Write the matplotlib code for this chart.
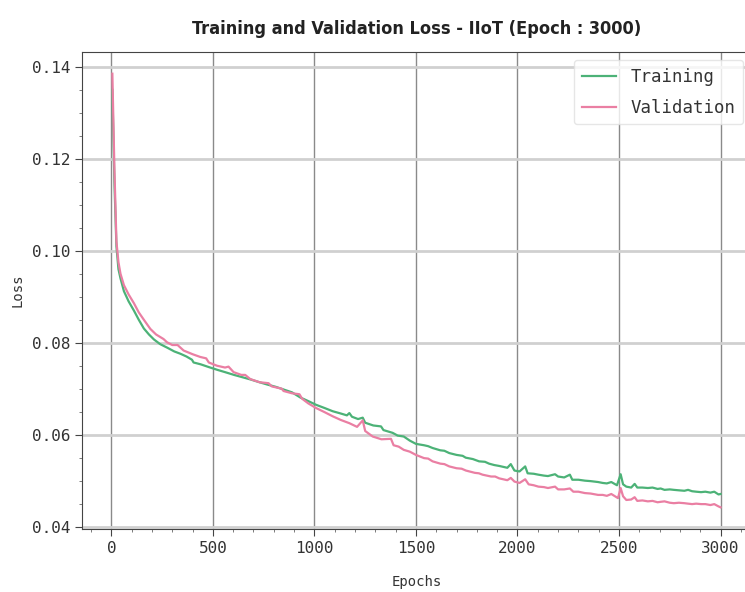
import matplotlib
matplotlib.use('Agg')
import matplotlib.pyplot as plt
from matplotlib.ticker import MultipleLocator

# loss history (epoch, loss)
train_epochs = [5, 15, 25, 35, 45, 62, 85, 111, 135, 160, 185, 210, 240, 276, 310, 340, 370, 397, 405, 440,
                480, 522, 560, 604, 645, 686, 730, 768, 810, 850, 890, 930, 970, 1008, 1050, 1090, 1130, 1160,
                1172, 1185, 1215, 1238, 1250, 1290, 1328, 1340, 1385, 1410, 1440, 1470, 1500, 1540, 1560, 1582,
                1620, 1640, 1664, 1700, 1730, 1745, 1780, 1811, 1840, 1860, 1885, 1910, 1950, 1967, 1985, 2010,
                2038, 2050, 2080, 2103, 2130, 2150, 2185, 2200, 2230, 2258, 2270, 2300, 2332, 2360, 2397, 2420,
                2440, 2462, 2490, 2508, 2520, 2536, 2560, 2577, 2590, 2615, 2642, 2665, 2690, 2705, 2724, 2750,
                2770, 2795, 2822, 2840, 2860, 2880, 2904, 2925, 2950, 2969, 2990, 3000]
train_loss = [0.1350, 0.1150, 0.1010, 0.0960, 0.0940, 0.0912, 0.0890, 0.0870, 0.0850, 0.0831, 0.0818, 0.0807,
              0.0797, 0.0789, 0.0781, 0.0776, 0.0770, 0.0763, 0.0757, 0.0753, 0.0747, 0.0741, 0.0736, 0.0730,
              0.0725, 0.0720, 0.0714, 0.0709, 0.0704, 0.0698, 0.0692, 0.0681, 0.0673, 0.0665, 0.0658, 0.0651,
              0.0646, 0.0642, 0.0647, 0.0639, 0.0634, 0.0637, 0.0626, 0.0620, 0.0618, 0.0610, 0.0604, 0.0598,
              0.0596, 0.0587, 0.0580, 0.0577, 0.0575, 0.0571, 0.0566, 0.0565, 0.0560, 0.0556, 0.0554, 0.0550,
              0.0547, 0.0542, 0.0541, 0.0537, 0.0534, 0.0532, 0.0528, 0.0536, 0.0522, 0.0520, 0.0531, 0.0516,
              0.0515, 0.0513, 0.0511, 0.0510, 0.0514, 0.0509, 0.0507, 0.0513, 0.0502, 0.0502, 0.0500, 0.0499,
              0.0497, 0.0495, 0.0494, 0.0497, 0.0490, 0.0514, 0.0492, 0.0487, 0.0485, 0.0493, 0.0485, 0.0485,
              0.0484, 0.0485, 0.0482, 0.0483, 0.0480, 0.0481, 0.0480, 0.0479, 0.0478, 0.0480, 0.0477, 0.0476,
              0.0475, 0.0476, 0.0474, 0.0476, 0.0470, 0.0471]

val_epochs = [5, 15, 25, 35, 45, 62, 85, 111, 135, 160, 192, 220, 257, 274, 300, 326, 356, 400, 438, 467, 480,
              520, 560, 577, 602, 640, 659, 684, 730, 774, 790, 839, 848, 890, 926, 940, 970, 1008, 1050, 1090,
              1130, 1172, 1210, 1238, 1250, 1287, 1330, 1377, 1390, 1415, 1440, 1470, 1500, 1540, 1560, 1582,
              1620, 1640, 1664, 1700, 1725, 1746, 1790, 1810, 1828, 1870, 1890, 1910, 1950, 1967, 1985, 2010,
              2038, 2055, 2080, 2103, 2130, 2150, 2185, 2200, 2230, 2258, 2275, 2300, 2332, 2360, 2397, 2420,
              2440, 2462, 2495, 2508, 2520, 2536, 2560, 2577, 2590, 2615, 2642, 2665, 2690, 2705, 2724, 2750,
              2770, 2795, 2822, 2840, 2860, 2880, 2904, 2925, 2950, 2969, 2990, 3000]
val_loss = [0.1385, 0.1180, 0.1020, 0.0975, 0.0950, 0.0925, 0.0905, 0.0886, 0.0866, 0.0850, 0.0830, 0.0818,
            0.0808, 0.0801, 0.0795, 0.0795, 0.0783, 0.0775, 0.0769, 0.0766, 0.0757, 0.0750, 0.0746, 0.0748,
            0.0736, 0.0730, 0.0730, 0.0721, 0.0714, 0.0712, 0.0705, 0.0700, 0.0695, 0.0690, 0.0688, 0.0678,
            0.0668, 0.0658, 0.0649, 0.0640, 0.0632, 0.0625, 0.0617, 0.0631, 0.0608, 0.0596, 0.0590, 0.0591,
            0.0577, 0.0574, 0.0567, 0.0563, 0.0556, 0.0549, 0.0548, 0.0542, 0.0537, 0.0536, 0.0531, 0.0527,
            0.0526, 0.0522, 0.0517, 0.0516, 0.0513, 0.0509, 0.0509, 0.0505, 0.0501, 0.0506, 0.0498, 0.0495,
            0.0503, 0.0492, 0.0490, 0.0487, 0.0486, 0.0484, 0.0487, 0.0481, 0.0481, 0.0483, 0.0476, 0.0476,
            0.0473, 0.0472, 0.0469, 0.0469, 0.0467, 0.0471, 0.0462, 0.0484, 0.0466, 0.0458, 0.0459, 0.0464,
            0.0456, 0.0457, 0.0455, 0.0456, 0.0453, 0.0454, 0.0455, 0.0452, 0.0451, 0.0452, 0.0451, 0.0450,
            0.0449, 0.0450, 0.0449, 0.0449, 0.0447, 0.0449, 0.0444, 0.0442]

mono = ['DejaVu Sans Mono']

fig = plt.figure(figsize=(7.45, 5.92), dpi=100)
ax = fig.add_axes([0.110, 0.1064, 0.898, 0.8057])

ax.plot(train_epochs, train_loss, color='#4cb277', lw=1.6, label='Training')
ax.plot(val_epochs, val_loss, color='#ea7fa3', lw=1.6, label='Validation')

ax.xaxis.set_major_locator(MultipleLocator(500))
ax.xaxis.set_minor_locator(MultipleLocator(100))
ax.yaxis.set_major_locator(MultipleLocator(0.02))
ax.yaxis.set_minor_locator(MultipleLocator(0.005))

# light horizontal grid, darker vertical grid
ax.grid(axis='y', which='major', color='#d0d0d0', lw=2)
ax.grid(axis='x', which='major', color='#8a8a8a', lw=1)
ax.set_axisbelow(True)

for s in ['left', 'top', 'bottom']:
    ax.spines[s].set_color('#444444')
ax.spines['right'].set_visible(False)
ax.tick_params(which='major', length=5, color='#444444', labelsize=11.5, labelcolor='#333333')
ax.tick_params(which='minor', length=2.5, color='#666666')
for lab in ax.get_xticklabels() + ax.get_yticklabels():
    lab.set_family(mono)
ax.yaxis.set_major_formatter(plt.FormatStrFormatter('%.2f'))

ax.set_xlabel('Epochs', family=mono, fontsize=10, color='#333333', labelpad=14)
ax.set_ylabel('Loss', family=mono, fontsize=10, color='#333333', labelpad=5)
ax.set_title('Training and Validation Loss - IIoT (Epoch : 3000)',
             family=['DejaVu Sans'], fontstretch='condensed', fontweight='bold',
             fontsize=13, color='#222222', pad=13)

leg = ax.legend(loc='upper right', prop={'family': mono, 'size': 12.5},
                frameon=True, edgecolor='#e0e0e0', fancybox=True,
                borderpad=0.45, labelspacing=0.75, handletextpad=0.8,
                borderaxespad=0.45)
for t in leg.get_texts():
    t.set_color('#333333')

fig.savefig('out.png', dpi=100)
